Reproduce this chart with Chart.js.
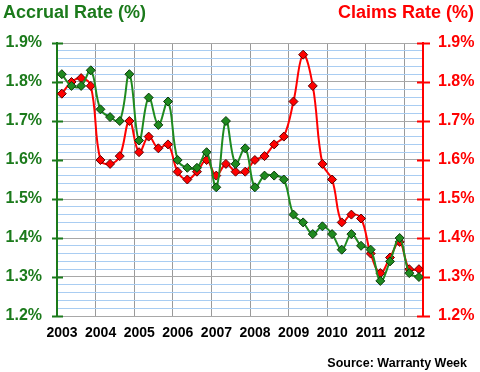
<!DOCTYPE html>
<html>
<head>
<meta charset="utf-8">
<script src="https://cdn.jsdelivr.net/npm/chart.js@4.4.1/dist/chart.umd.min.js"></script>
<style>
    html, body { margin: 0; padding: 0; background: #fff; }
    #wrap { position: relative; width: 480px; height: 372px; font-family: 'Liberation Sans', Arial, sans-serif; font-weight: bold; }
    #wrap canvas { position: absolute; left: 0; top: 0; }
    .lbl { position: absolute; white-space: nowrap; line-height: 1; }
    #accrualTitle { left: 3px; top: 3px; font-size: 18px; color: #1b7a1b; }
    #claimsTitle { right: 6px; top: 3px; font-size: 18px; color: #ff0000; }
    #source { right: 13px; top: 357px; font-size: 12.5px; color: #000; }
</style>
</head>
<body>
<div id="wrap">
    <canvas id="warrantyChart" width="480" height="372"></canvas>
    <div class="lbl" id="accrualTitle">Accrual Rate (%)</div>
    <div class="lbl" id="claimsTitle">Claims Rate (%)</div>
    <div class="lbl" id="source">Source: Warranty Week</div>
</div>
<script>
// quarterly values, 2003 Q1 .. 2012 Q2
const firstYear = 2003;
const years = [2003, 2004, 2005, 2006, 2007, 2008, 2009, 2010, 2011, 2012];
const accrualRate = [
    1.82, 1.79, 1.79, 1.83,
    1.73, 1.71, 1.70, 1.82,
    1.65, 1.76, 1.69, 1.75,
    1.60, 1.58, 1.58, 1.62,
    1.53, 1.70, 1.59, 1.63,
    1.53, 1.56, 1.56, 1.55,
    1.46, 1.44, 1.41, 1.43,
    1.41, 1.37, 1.41, 1.38,
    1.37, 1.29, 1.34, 1.40,
    1.31, 1.30
];
const claimsRate = [
    1.77, 1.80, 1.81, 1.79,
    1.60, 1.59, 1.61, 1.70,
    1.62, 1.66, 1.63, 1.64,
    1.57, 1.55, 1.57, 1.60,
    1.56, 1.59, 1.57, 1.57,
    1.60, 1.61, 1.64, 1.66,
    1.75, 1.87, 1.79, 1.59,
    1.55, 1.44, 1.46, 1.45,
    1.36, 1.31, 1.35, 1.39,
    1.32, 1.32
];
const rateTicks = [1.2, 1.3, 1.4, 1.5, 1.6, 1.7, 1.8, 1.9];

const GREEN = '#1b7a1b';
const RED = '#ff0000';

// x position = middle of the quarter
function toPoints(values) {
    return values.map((v, i) => ({ x: firstYear + (i + 0.5) / 4, y: v }));
}

function isMajor(v) {
    return Math.round(v * 100) % 10 === 0;
}

// the cross-shaped tick marks on both value axes
const axisTicks = {
    id: 'axisTicks',
    beforeDatasetsDraw(chart) {
        const c = chart.ctx;
        const yl = chart.scales.y;
        const yr = chart.scales.y2;
        const left = chart.chartArea.left;
        const right = chart.chartArea.right;
        c.save();
        c.lineWidth = 2;
        rateTicks.forEach(v => {
            const py = Math.round(yl.getPixelForValue(v)) + 0.5;
            c.strokeStyle = GREEN;
            c.beginPath();
            c.moveTo(left - 5, py);
            c.lineTo(left + 6, py);
            c.stroke();
            const pr = Math.round(yr.getPixelForValue(v)) + 0.5;
            c.strokeStyle = RED;
            c.beginPath();
            c.moveTo(right - 6, pr);
            c.lineTo(right + 7, pr);
            c.stroke();
        });
        c.restore();
    }
};

const ctx = document.getElementById('warrantyChart');

new Chart(ctx, {
    type: 'line',
    data: {
        datasets: [{
            label: 'Accrual Rate (%)',
            data: toPoints(accrualRate),
            yAxisID: 'y',
            borderColor: '#1f8a1f',
            borderWidth: 2,
            backgroundColor: '#1f8a1f',
            pointStyle: 'rectRot',
            pointRadius: 4.5,
            pointBackgroundColor: '#1f8a1f',
            pointBorderColor: '#0b3a0b',
            pointBorderWidth: 1,
            tension: 0.4
        }, {
            label: 'Claims Rate (%)',
            data: toPoints(claimsRate),
            yAxisID: 'y2',
            borderColor: RED,
            borderWidth: 2,
            backgroundColor: RED,
            pointStyle: 'rectRot',
            pointRadius: 4.5,
            pointBackgroundColor: RED,
            pointBorderColor: '#5a0000',
            pointBorderWidth: 1,
            tension: 0.4
        }]
    },
    options: {
        responsive: false,
        animation: false,
        layout: { padding: { top: 43, left: 0, right: 0, bottom: 0 } },
        plugins: {
            legend: { display: false },
            tooltip: { enabled: false }
        },
        scales: {
            x: {
                type: 'linear',
                min: firstYear,
                max: 2012.48,
                afterBuildTicks(scale) {
                    scale.ticks = years.map(y => ({ value: y }));
                },
                afterFit(scale) { scale.height = 56; },
                ticks: {
                    autoSkip: false,
                    maxRotation: 0,
                    padding: 9,
                    labelOffset: 5,
                    color: '#000',
                    font: { family: "'Liberation Sans', Arial", size: 14, weight: 'bold' },
                    callback: v => String(v)
                },
                grid: { color: '#9a9a9a', lineWidth: 1, drawTicks: false },
                border: { display: false }
            },
            y: {
                position: 'left',
                min: 1.2,
                max: 1.9,
                afterFit(scale) { scale.width = 57; },
                ticks: {
                    stepSize: 0.02,
                    autoSkip: false,
                    padding: 15,
                    color: GREEN,
                    font: { family: "'Liberation Sans', Arial", size: 16, weight: 'bold' },
                    callback: v => isMajor(v) ? (Math.round(v * 10) / 10).toFixed(1) + '%' : ''
                },
                grid: {
                    drawTicks: false,
                    color: c => isMajor(c.tick.value) ? '#a8a8a8' : '#a9cdf2',
                    lineWidth: 1
                },
                border: { display: true, color: GREEN, width: 2 }
            },
            y2: {
                position: 'right',
                min: 1.2,
                max: 1.9,
                afterFit(scale) { scale.width = 57; },
                ticks: {
                    stepSize: 0.1,
                    autoSkip: false,
                    padding: 15,
                    color: RED,
                    font: { family: "'Liberation Sans', Arial", size: 16, weight: 'bold' },
                    callback: v => (Math.round(v * 10) / 10).toFixed(1) + '%'
                },
                grid: { display: false, drawTicks: false },
                border: { display: true, color: RED, width: 2 }
            }
        }
    },
    plugins: [axisTicks]
});
</script>
</body>
</html>
